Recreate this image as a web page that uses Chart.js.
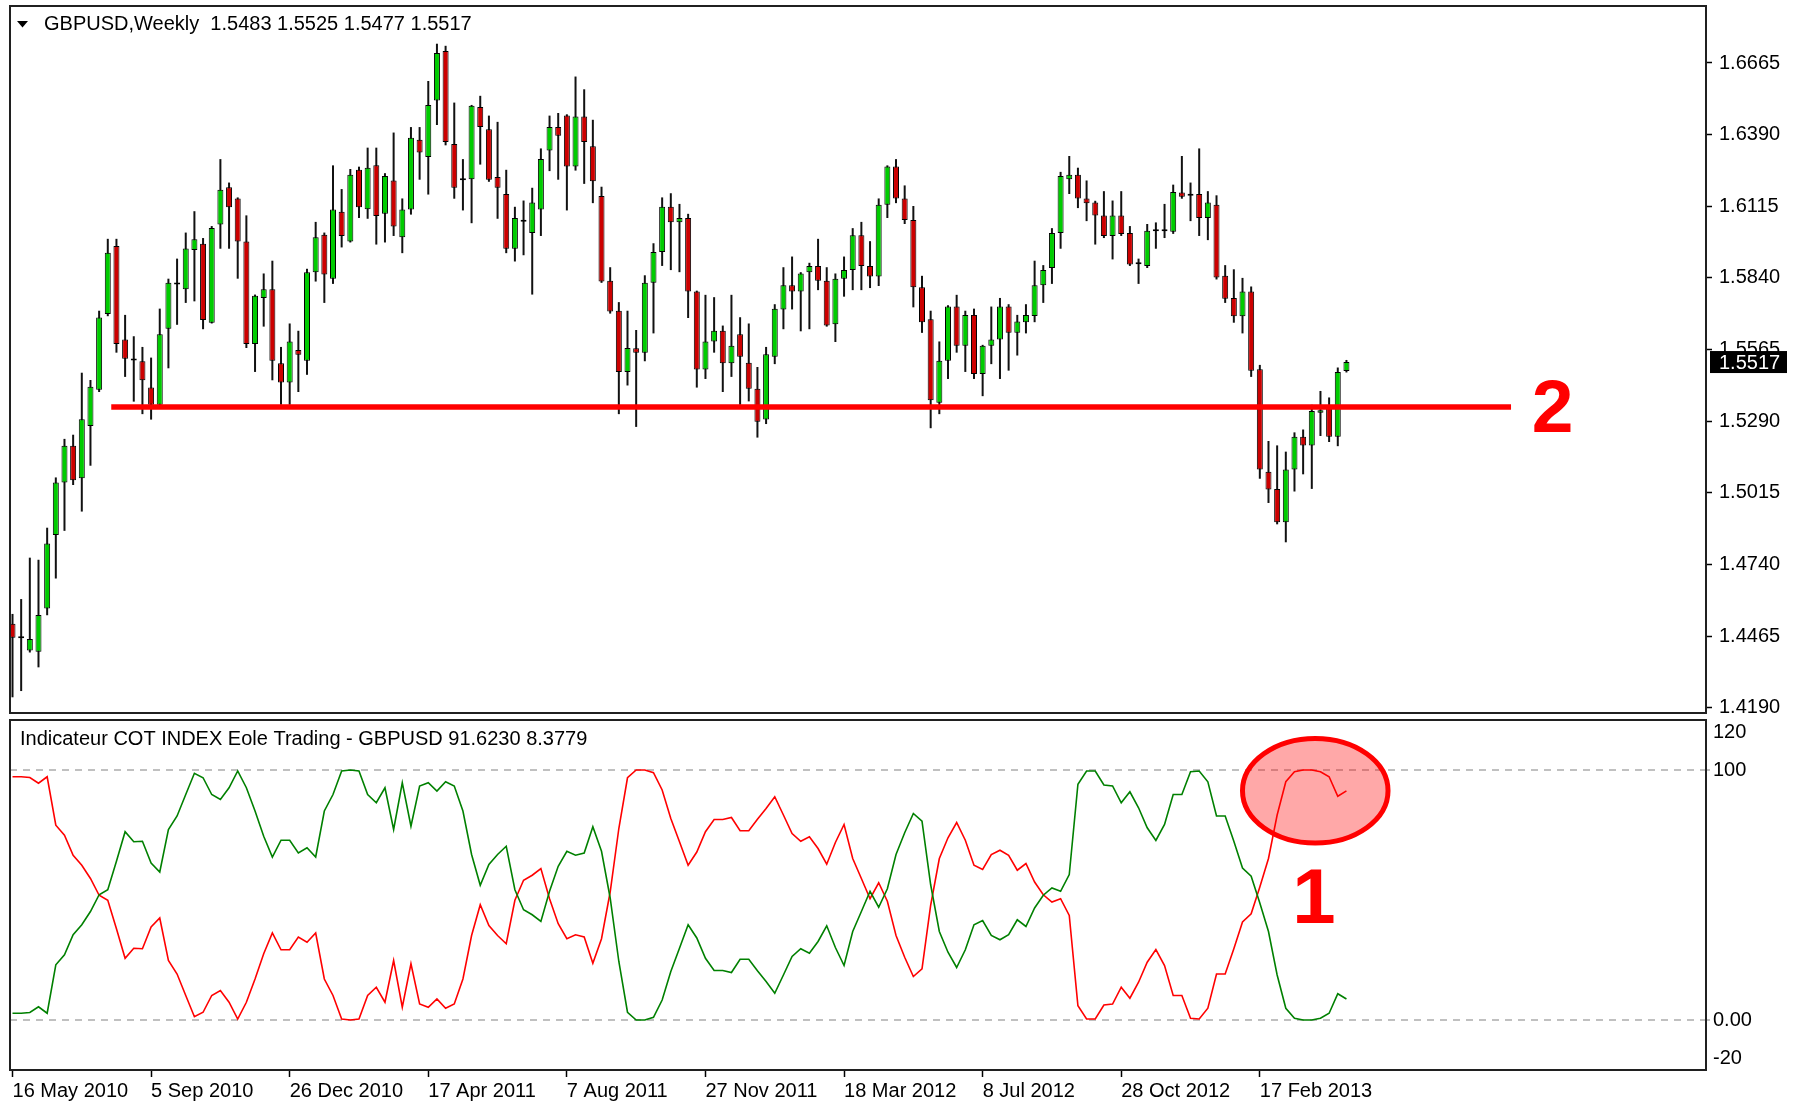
<!DOCTYPE html>
<html>
<head>
<meta charset="utf-8">
<script src="https://cdn.jsdelivr.net/npm/chart.js@4/dist/chart.umd.min.js"></script>
<style>
  html, body { margin: 0; padding: 0; background: #fff; overflow: hidden; }
  #wrap { position: relative; width: 1798px; height: 1104px; overflow: hidden; }
  #priceChart { position: absolute; left: 0; top: -20px; }
  #cotChart { position: absolute; left: 0; top: 690px; }
</style>
</head>
<body>
<div id="wrap">
  <canvas id="priceChart" width="1798" height="753"></canvas>
  <canvas id="cotChart" width="1798" height="414"></canvas>
</div>
<script>
// weekly GBPUSD candles, index 0 = week of 16 May 2010
const opens = [
  1.4512,1.4457,1.4410,1.4405,1.4571,1.4853,1.5055,1.5196,1.5071,1.5271,
  1.5411,1.5701,1.5962,1.5604,1.5523,1.5520,1.5419,1.5353,1.5645,1.5815,
  1.5796,1.5947,1.5971,1.5668,1.6045,1.6188,1.6145,1.5980,1.5586,1.5763,
  1.5796,1.5512,1.5438,1.5563,1.5522,1.5862,1.6006,1.5837,1.6094,1.5980,
  1.6255,1.6104,1.6272,1.6086,1.6214,1.5996,1.6103,1.6370,1.6304,1.6521,
  1.6711,1.6354,1.6215,1.6219,1.6496,1.6411,1.6227,1.6162,1.5952,1.6056,
  1.6012,1.6103,1.6329,1.6419,1.6463,1.6268,1.6460,1.6345,1.6154,1.5829,
  1.5714,1.5479,1.5570,1.5553,1.5821,1.5939,1.6113,1.6054,1.6070,1.5788,
  1.5488,1.5596,1.5637,1.5512,1.5624,1.5514,1.5414,1.5296,1.5537,1.5719,
  1.5812,1.5788,1.5862,1.5886,1.5829,1.5662,1.5837,1.5870,1.6004,1.5886,
  1.5845,1.6121,1.6268,1.6145,1.6062,1.5804,1.5681,1.5361,1.5522,1.5730,
  1.5580,1.5698,1.5471,1.5580,1.5604,1.5730,1.5629,1.5670,1.5694,1.5812,
  1.5878,1.6012,1.6219,1.6236,1.6145,1.6129,1.6080,1.6001,1.6080,1.6012,
  1.5892,1.5886,1.6019,1.6023,1.6017,1.6168,1.6155,1.6162,1.6070,1.6121,
  1.5848,1.5763,1.5693,1.5788,1.5489,1.5096,1.5030,1.4902,1.5104,1.5230,
  1.5197,1.5322,1.5342,1.5230,1.5483
];
const highs = [
  1.4550,1.4607,1.4766,1.4758,1.4881,1.5074,1.5222,1.5238,1.5476,1.5448,
  1.5714,1.5990,1.5990,1.5698,1.5616,1.5575,1.5534,1.5722,1.5837,1.5914,
  1.6014,1.6096,1.5993,1.6039,1.6296,1.6206,1.6149,1.6080,1.5776,1.5857,
  1.5906,1.5575,1.5665,1.5637,1.5875,1.6055,1.6014,1.6272,1.6181,1.6258,
  1.6267,1.6340,1.6340,1.6242,1.6398,1.6145,1.6419,1.6419,1.6596,1.6739,
  1.6731,1.6513,1.6296,1.6504,1.6539,1.6463,1.6439,1.6255,1.6113,1.6137,
  1.6186,1.6337,1.6463,1.6473,1.6468,1.6613,1.6564,1.6447,1.6190,1.5881,
  1.5747,1.5714,1.5640,1.5850,1.5973,1.6149,1.6165,1.6124,1.6086,1.5791,
  1.5775,1.5766,1.5657,1.5775,1.5689,1.5665,1.5498,1.5575,1.5739,1.5881,
  1.5922,1.5862,1.5898,1.5990,1.5881,1.5857,1.5922,1.6031,1.6055,1.5981,
  1.6145,1.6272,1.6296,1.6195,1.6116,1.5848,1.5714,1.5596,1.5735,1.5775,
  1.5714,1.5722,1.5583,1.5730,1.5763,1.5739,1.5698,1.5739,1.5906,1.5889,
  1.6031,1.6247,1.6308,1.6263,1.6214,1.6136,1.6173,1.6137,1.6173,1.6039,
  1.5914,1.6047,1.6053,1.6124,1.6198,1.6308,1.6206,1.6337,1.6173,1.6157,
  1.5889,1.5873,1.5840,1.5807,1.5506,1.5214,1.5197,1.5173,1.5247,1.5258,
  1.5353,1.5406,1.5381,1.5496,1.5525
];
const lows = [
  1.4230,1.4254,1.4402,1.4345,1.4545,1.4686,1.4869,1.5045,1.4943,1.5119,
  1.5402,1.5693,1.5553,1.5460,1.5365,1.5317,1.5296,1.5348,1.5493,1.5660,
  1.5744,1.5750,1.5643,1.5665,1.5952,1.5952,1.5837,1.5571,1.5479,1.5653,
  1.5447,1.5353,1.5353,1.5402,1.5468,1.5826,1.5744,1.5817,1.5957,1.5976,
  1.6070,1.6067,1.5968,1.5976,1.6001,1.5935,1.6083,1.6217,1.6160,1.6427,
  1.6349,1.6144,1.6099,1.6050,1.6275,1.6209,1.6067,1.5935,1.5903,1.5927,
  1.5776,1.6001,1.6250,1.6217,1.6099,1.6252,1.6201,1.6127,1.5821,1.5703,
  1.5317,1.5427,1.5268,1.5520,1.5627,1.5886,1.5870,1.5862,1.5686,1.5419,
  1.5452,1.5553,1.5402,1.5460,1.5353,1.5366,1.5227,1.5279,1.5509,1.5643,
  1.5719,1.5635,1.5643,1.5793,1.5653,1.5594,1.5768,1.5793,1.5793,1.5801,
  1.5809,1.6070,1.6127,1.6047,1.5727,1.5629,1.5263,1.5317,1.5452,1.5553,
  1.5479,1.5452,1.5386,1.5509,1.5452,1.5484,1.5542,1.5627,1.5670,1.5744,
  1.5817,1.5952,1.6162,1.6108,1.6058,1.5968,1.5993,1.5911,1.6001,1.5886,
  1.5817,1.5878,1.5952,1.5993,1.6009,1.6144,1.6058,1.6001,1.5985,1.5834,
  1.5744,1.5668,1.5627,1.5460,1.5069,1.4976,1.4894,1.4825,1.5020,1.5086,
  1.5030,1.5233,1.5210,1.5194,1.5477
];
const closes = [
  1.4459,1.4461,1.4454,1.4546,1.4820,1.5055,1.5196,1.5063,1.5297,1.5422,
  1.5688,1.5937,1.5586,1.5530,1.5527,1.5447,1.5353,1.5624,1.5821,1.5819,
  1.5953,1.5988,1.5678,1.6032,1.6178,1.6111,1.5980,1.5586,1.5771,1.5796,
  1.5522,1.5438,1.5596,1.5545,1.5862,1.5996,1.5853,1.6103,1.6001,1.6236,
  1.6111,1.6263,1.6078,1.6231,1.6037,1.6103,1.6378,1.6321,1.6504,1.6703,
  1.6362,1.6186,1.6219,1.6501,1.6419,1.6217,1.6186,1.5952,1.6070,1.6060,
  1.6129,1.6296,1.6419,1.6386,1.6268,1.6460,1.6362,1.6211,1.5826,1.5711,
  1.5479,1.5571,1.5553,1.5821,1.5939,1.6113,1.6054,1.6070,1.5788,1.5488,
  1.5596,1.5637,1.5512,1.5580,1.5537,1.5414,1.5288,1.5547,1.5722,1.5812,
  1.5788,1.5857,1.5886,1.5829,1.5657,1.5837,1.5870,1.6004,1.5886,1.5845,
  1.6121,1.6268,1.6145,1.6062,1.5804,1.5670,1.5370,1.5522,1.5730,1.5580,
  1.5698,1.5471,1.5580,1.5604,1.5730,1.5629,1.5673,1.5698,1.5812,1.5870,
  1.6012,1.6231,1.6236,1.6145,1.6127,1.6080,1.6001,1.6080,1.6009,1.5891,
  1.5896,1.6021,1.6023,1.6019,1.6170,1.6152,1.6159,1.6070,1.6129,1.5842,
  1.5760,1.5693,1.5788,1.5484,1.5104,1.5028,1.4902,1.5104,1.5230,1.5197,
  1.5329,1.5332,1.5230,1.5479,1.5517
];

// COT index (buffer 0 red, buffer 1 green)
const cotRed = [
  97.3,97.3,97.0,94.7,97.3,77.9,73.9,65.9,61.9,56.6,
  49.9,47.9,36.5,24.7,28.7,28.5,37.2,40.8,23.8,18.4,
  9.8,1.3,3.1,9.8,11.8,7.1,0.4,7.1,16.4,26.5,
  34.8,28.1,28.1,33.2,31.1,34.8,16.4,9.8,0.4,0.0,
  0.4,9.8,13.1,7.1,23.8,5.1,22.5,6.4,5.1,8.4,
  4.7,6.4,16.4,33.8,46.1,37.8,33.8,30.5,47.9,55.9,
  57.9,60.6,48.5,38.5,32.5,34.1,33.2,22.7,32.5,51.2,
  76.6,96.9,100,100,98.9,92.0,80.6,71.3,61.9,67.2,
  75.3,80.2,80.2,81.0,75.7,75.7,80.3,84.6,89.3,82.0,
  74.6,71.5,73.3,68.6,62.3,71.0,78.2,64.6,56.6,48.5,
  54.9,47.5,33.8,25.1,17.4,20.5,45.9,64.6,72.9,79.0,
  71.9,61.9,60.2,66.2,67.9,65.9,59.9,62.6,55.2,50.1,
  47.2,48.5,41.8,5.7,0.4,0.4,6.0,6.4,13.1,8.7,
  15.1,23.1,28.2,21.8,9.8,9.8,0.7,0.4,4.7,18.4,
  18.4,28.5,39.2,42.5,53.2,64.6,82.0,95.3,99.3,100,
  100,99.3,97.3,89.5,91.623
];
const cotGreen = [
  2.7,2.7,3.0,5.3,2.7,22.1,26.1,34.1,38.1,43.4,
  50.1,52.1,63.5,75.3,71.3,71.5,62.8,59.2,76.2,81.6,
  90.2,98.7,96.9,90.2,88.2,92.9,99.6,92.9,83.6,73.5,
  65.2,71.9,71.9,66.8,68.9,65.2,83.6,90.2,99.6,100,
  99.6,90.2,86.9,92.9,76.2,94.9,77.5,93.6,94.9,91.6,
  95.3,93.6,83.6,66.2,53.9,62.2,66.2,69.5,52.1,44.1,
  42.1,39.4,51.5,61.5,67.5,65.9,66.8,77.3,67.5,48.8,
  23.4,3.1,0,0,1.1,8.0,19.4,28.7,38.1,32.8,
  24.7,19.8,19.8,19.0,24.3,24.3,19.7,15.4,10.7,18.0,
  25.4,28.5,26.7,31.4,37.7,29.0,21.8,35.4,43.4,51.5,
  45.1,52.5,66.2,74.9,82.6,79.5,54.1,35.4,27.1,21.0,
  28.1,38.1,39.8,33.8,32.1,34.1,40.1,37.4,44.8,49.9,
  52.8,51.5,58.2,94.3,99.6,99.6,94.0,93.6,86.9,91.3,
  84.9,76.9,71.8,78.2,90.2,90.2,99.3,99.6,95.3,81.6,
  81.6,71.5,60.8,57.5,46.8,35.4,18.0,4.7,0.7,0,
  0,0.7,2.7,10.5,8.3779
];

// axis labels
const labelWeeks = [0, 16, 32, 48, 64, 80, 96, 112, 128, 144];
const dateLabels = ['16 May 2010', '5 Sep 2010', '26 Dec 2010', '17 Apr 2011', '7 Aug 2011',
  '27 Nov 2011', '18 Mar 2012', '8 Jul 2012', '28 Oct 2012', '17 Feb 2013'];
const priceTicks = [1.4190, 1.4465, 1.4740, 1.5015, 1.5290, 1.5565, 1.5840, 1.6115, 1.6390, 1.6665];
const cotTicks = [-20, 0, 100, 120];
const cotTickText = [['-20', ''], '0.00', '100', ['', '120']];

// annotations (data units)
const supportLevel = 1.5344;
const supportFrom = 11.4;
const supportTo = 173;
const markTwo = { x: 177.8, y: 1.5329, text: '2' };
const markOne = { x: 150.25, y: 47.6, text: '1' };
const circle = { x: 150.4, y: 91.7, rx: 8.4, ry: 20.9 };

const X_MIN = -0.289;
const X_MAX = 195.51;
const BULL = '#00cc00';
const BEAR = '#cc0000';
const RED = '#ff0000';
const GREEN = '#008000';
const FONT = "'Liberation Sans', Arial, sans-serif";

Chart.defaults.font.family = FONT;
Chart.defaults.font.size = 20;
Chart.defaults.color = '#000';

const weeks = opens.map((_, i) => i);
const last = opens.length - 1;

const framePlugin = {
  id: 'frame',
  afterDraw(chart) {
    const { ctx, chartArea: a } = chart;
    ctx.save();
    ctx.strokeStyle = '#202020';
    ctx.lineWidth = 2;
    ctx.strokeRect(a.left, a.top, a.right - a.left, a.bottom - a.top);
    ctx.restore();
  }
};

const priceDecor = {
  id: 'priceDecor',
  afterDatasetsDraw(chart) {
    const { ctx, scales: { x, y } } = chart;
    ctx.save();
    ctx.fillStyle = RED;
    ctx.font = 'bold 75px ' + FONT;
    ctx.textAlign = 'center';
    ctx.textBaseline = 'middle';
    ctx.fillText(markTwo.text, x.getPixelForValue(markTwo.x), y.getPixelForValue(markTwo.y));
    ctx.restore();
  },
  afterDraw(chart) {
    const { ctx, chartArea: a, scales: { y } } = chart;
    ctx.save();
    // header
    ctx.fillStyle = '#000';
    ctx.beginPath();
    ctx.moveTo(a.left + 7, a.top + 15);
    ctx.lineTo(a.left + 18, a.top + 15);
    ctx.lineTo(a.left + 12.5, a.top + 21.5);
    ctx.closePath();
    ctx.fill();
    ctx.font = '20px ' + FONT;
    ctx.textBaseline = 'middle';
    const ohlc = [opens[last], highs[last], lows[last], closes[last]].map(v => v.toFixed(4)).join(' ');
    ctx.fillText('GBPUSD,Weekly  ' + ohlc, a.left + 34, a.top + 18);
    // current price tag
    const py = y.getPixelForValue(closes[last]);
    ctx.fillRect(a.right + 4, py - 11, 77, 22);
    ctx.fillStyle = '#fff';
    ctx.fillText(closes[last].toFixed(4), a.right + 13, py + 1);
    ctx.restore();
  }
};

const cotDecor = {
  id: 'cotDecor',
  afterDatasetsDraw(chart) {
    const { ctx, scales: { x, y } } = chart;
    const cx = x.getPixelForValue(circle.x);
    const cy = y.getPixelForValue(circle.y);
    const rx = x.getPixelForValue(circle.x + circle.rx) - cx;
    const ry = cy - y.getPixelForValue(circle.y + circle.ry);
    ctx.save();
    ctx.beginPath();
    ctx.ellipse(cx, cy, rx, ry, 0, 0, Math.PI * 2);
    ctx.fillStyle = 'rgba(255, 0, 0, 0.34)';
    ctx.fill();
    ctx.lineWidth = 5;
    ctx.strokeStyle = RED;
    ctx.stroke();
    ctx.fillStyle = RED;
    ctx.font = 'bold 78px ' + FONT;
    ctx.textAlign = 'center';
    ctx.textBaseline = 'middle';
    ctx.fillText(markOne.text, x.getPixelForValue(markOne.x), y.getPixelForValue(markOne.y));
    ctx.restore();
  },
  afterDraw(chart) {
    const { ctx, chartArea: a } = chart;
    ctx.save();
    ctx.fillStyle = '#000';
    ctx.font = '20px ' + FONT;
    ctx.textBaseline = 'middle';
    ctx.fillText('Indicateur COT INDEX Eole Trading - GBPUSD ' + cotRed[last].toFixed(4) + ' ' +
      cotGreen[last].toFixed(4), a.left + 10, a.top + 19);
    ctx.restore();
  }
};

new Chart(document.getElementById('priceChart'), {
  type: 'bar',
  data: {
    datasets: [
      {
        type: 'line',
        data: [{ x: supportFrom, y: supportLevel }, { x: supportTo, y: supportLevel }],
        borderColor: RED,
        borderWidth: 5.5,
        pointRadius: 0,
        order: 0,
      },
      {
        data: weeks.map(i => ({ x: i, y: [opens[i], closes[i]] })),
        backgroundColor: weeks.map(i => (closes[i] >= opens[i] ? BULL : BEAR)),
        borderColor: '#000',
        borderWidth: 1,
        borderSkipped: false,
        maxBarThickness: 6,
        minBarLength: 2,
        grouped: false,
        order: 1,
      },
      {
        data: weeks.map(i => ({ x: i, y: [lows[i], highs[i]] })),
        backgroundColor: '#111',
        borderWidth: 0,
        maxBarThickness: 2,
        grouped: false,
        order: 2,
      },
    ],
  },
  options: {
    responsive: false,
    animation: false,
    events: [],
    layout: { padding: { left: 10, top: 26, right: 0, bottom: 20 } },
    plugins: { legend: { display: false }, tooltip: { enabled: false } },
    scales: {
      x: {
        type: 'linear',
        min: X_MIN,
        max: X_MAX,
        offset: false,
        bounds: 'data',
        display: false,
        grid: { offset: false },
      },
      y: {
        type: 'linear',
        position: 'right',
        min: 1.41697,
        max: 1.68838,
        bounds: 'data',
        beginAtZero: false,
        afterBuildTicks: (s) => { s.ticks = priceTicks.map(v => ({ value: v })); },
        afterFit: (s) => { s.width = 92; },
        ticks: { padding: 7, callback: (v) => Number(v).toFixed(4) },
        grid: { drawOnChartArea: false, tickLength: 6, tickColor: '#000', tickWidth: 1.5 },
        border: { display: false },
      },
    },
  },
  plugins: [framePlugin, priceDecor],
});

new Chart(document.getElementById('cotChart'), {
  type: 'line',
  data: {
    datasets: [
      {
        data: weeks.map(i => ({ x: i, y: cotGreen[i] })),
        borderColor: GREEN,
        borderWidth: 1.6,
        pointRadius: 0,
        tension: 0,
      },
      {
        data: weeks.map(i => ({ x: i, y: cotRed[i] })),
        borderColor: RED,
        borderWidth: 1.6,
        pointRadius: 0,
        tension: 0,
      },
    ],
  },
  options: {
    responsive: false,
    animation: false,
    events: [],
    layout: { padding: { left: 10, top: 30, right: 0, bottom: 0 } },
    plugins: { legend: { display: false }, tooltip: { enabled: false } },
    scales: {
      x: {
        type: 'linear',
        min: X_MIN,
        max: X_MAX,
        offset: false,
        bounds: 'data',
        afterBuildTicks: (s) => { s.ticks = labelWeeks.map(v => ({ value: v })); },
        afterFit: (s) => { s.height = 34; },
        ticks: {
          align: 'start',
          padding: 2,
          autoSkip: false,
          maxRotation: 0,
          minRotation: 0,
          callback: (v, i) => dateLabels[i],
        },
        grid: { drawOnChartArea: false, offset: false, tickLength: 7, tickColor: '#000', tickWidth: 1.5 },
        border: { display: false },
      },
      y: {
        type: 'linear',
        position: 'right',
        min: -20,
        max: 120,
        bounds: 'data',
        afterBuildTicks: (s) => { s.ticks = cotTicks.map(v => ({ value: v })); },
        afterFit: (s) => { s.width = 92; },
        ticks: { padding: 3, callback: (v) => cotTickText[cotTicks.indexOf(v)] },
        grid: {
          color: (c) => (c.tick && (c.tick.value === 100 || c.tick.value === 0) ? '#c0c0c0' : 'rgba(0,0,0,0)'),
          lineWidth: 2,
          tickLength: 4,
          tickBorderDash: [],
        },
        border: { display: false, dash: [7, 6] },
      },
    },
  },
  plugins: [framePlugin, cotDecor],
});
</script>
</body>
</html>
